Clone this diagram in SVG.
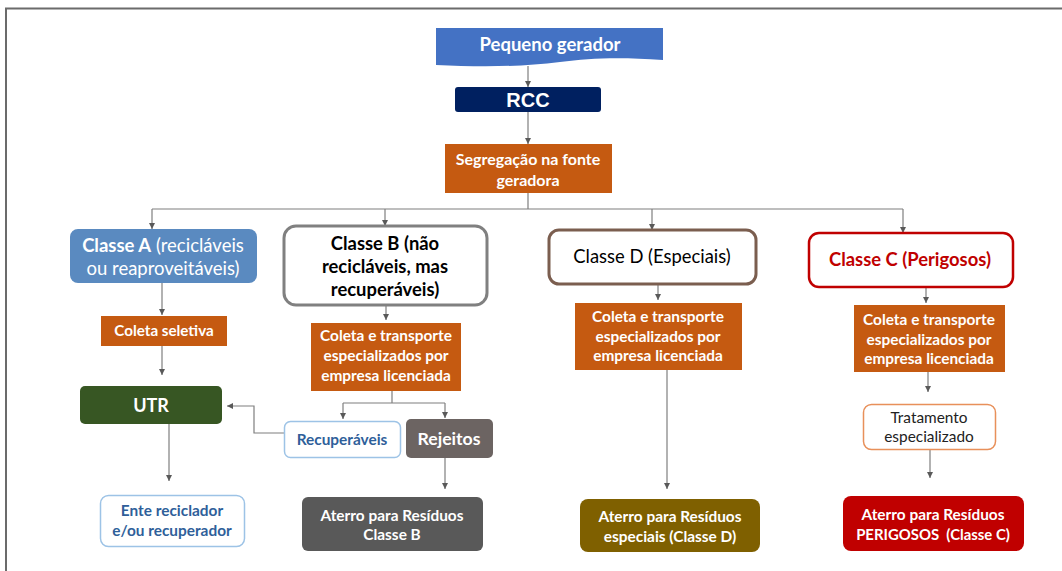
<svg xmlns="http://www.w3.org/2000/svg" width="1062" height="571" viewBox="0 0 1062 571">
<defs>
<marker id="ah" viewBox="0 0 10 10" refX="10" refY="5" markerWidth="6" markerHeight="6" orient="auto" markerUnits="userSpaceOnUse">
<path d="M0,0 L10,5 L0,10 Z" fill="#595959"/>
</marker>
<style>
.t{font-family:Lato,"Open Sans","Liberation Sans",sans-serif;text-anchor:middle}
.b{font-weight:bold}
.w{fill:#ffffff}
.c{fill:none;stroke:#7f7f7f;stroke-width:1.2}
.a{marker-end:url(#ah)}
.org{fill:#C55A11}
.s{font-size:15.4px}
.m{font-size:18.4px}
</style>
</defs>
<rect x="0" y="0" width="1062" height="571" fill="#ffffff"/>
<path d="M6,571 V8.5 H1062" fill="none" stroke="#6b6b6b" stroke-width="2"/>

<g id="connectors">
<path class="c a" d="M528,66 V87"/>
<path class="c a" d="M528,112 V144"/>
<path class="c" d="M528,193 V209 M152,209 H903"/>
<path class="c a" d="M152,209 V229"/>
<path class="c a" d="M385,209 V226"/>
<path class="c a" d="M652,209 V230"/>
<path class="c a" d="M903,209 V233"/>
<path class="c a" d="M162,283 V315"/>
<path class="c a" d="M162,346 V375"/>
<path class="c a" d="M169,424 V481"/>
<path class="c a" d="M386,305 V320"/>
<path class="c" d="M392,391 V403 M343,403 H445"/>
<path class="c a" d="M343,403 V419"/>
<path class="c a" d="M445,403 V418"/>
<path class="c a" d="M284,433 H254 V406 H227"/>
<path class="c a" d="M445,458 V489"/>
<path class="c a" d="M658,284 V300"/>
<path class="c a" d="M667,370 V489"/>
<path class="c a" d="M926,287 V303"/>
<path class="c a" d="M928,372 V392"/>
<path class="c a" d="M930,450 V478"/>
</g>

<g id="pequeno-gerador">
<path d="M436,28 H663 V60 C620,57 590,58 560,62 C520,67 480,67 436,65 Z" fill="#4472C4"/>
<text class="t b w" x="550" y="51" font-size="18.5">Pequeno gerador</text>
</g>

<g id="rcc">
<rect x="455" y="87" width="146" height="25" rx="3" fill="#002060"/>
<text x="528" y="107" font-family="'Liberation Sans',Arial,sans-serif" font-weight="bold" font-size="20" fill="#ffffff" text-anchor="middle">RCC</text>
</g>

<g id="segregacao">
<rect class="org" x="445" y="144" width="167" height="49"/>
<text class="t b w" x="528" y="165" font-size="16">Segregação na fonte</text>
<text class="t b w" x="528" y="186" font-size="16">geradora</text>
</g>

<g id="classe-a">
<rect x="70" y="229" width="187" height="54" rx="8" fill="#5A8AC0"/>
<text class="t w" x="163" y="252" font-size="18.5"><tspan font-weight="bold">Classe A</tspan> (recicláveis</text>
<text class="t w" x="163" y="275" font-size="18.5">ou reaproveitáveis)</text>
</g>

<g id="classe-b">
<rect x="284" y="226" width="203" height="79" rx="12" fill="#ffffff" stroke="#808080" stroke-width="3"/>
<text class="t b m" x="385" y="250" fill="#000">Classe B (não</text>
<text class="t b m" x="385" y="273" fill="#000">recicláveis, mas</text>
<text class="t b m" x="385" y="296" fill="#000">recuperáveis)</text>
</g>

<g id="classe-d">
<rect x="549" y="230" width="207" height="54" rx="10" fill="#ffffff" stroke="#7B5E4F" stroke-width="3"/>
<text class="t m" x="652" y="263" fill="#000">Classe D (Especiais)</text>
</g>

<g id="classe-c">
<rect x="809" y="233" width="204" height="54" rx="10" fill="#ffffff" stroke="#C00000" stroke-width="2.5"/>
<text class="t b m" x="910" y="266" fill="#C00000">Classe C (Perigosos)</text>
</g>

<g id="coleta-seletiva">
<rect class="org" x="101" y="316" width="126" height="30"/>
<text class="t b w" x="164" y="336" font-size="15.2">Coleta seletiva</text>
</g>

<g id="utr">
<rect x="80" y="386" width="142" height="38" rx="5" fill="#375623"/>
<text class="t b w" x="151" y="412" font-size="18">UTR</text>
</g>

<g id="ente">
<rect x="100.5" y="495.5" width="144" height="51" rx="8" fill="#ffffff" stroke="#9DC3E6" stroke-width="1.5"/>
<text class="t b s" x="172" y="516" fill="#2F5F9A">Ente reciclador</text>
<text class="t b s" x="172" y="536" fill="#2F5F9A">e/ou recuperador</text>
</g>

<g id="coleta-b">
<rect class="org" x="311" y="323" width="150" height="68"/>
<text class="t b w s" x="386" y="341">Coleta e transporte</text>
<text class="t b w s" x="386" y="361">especializados por</text>
<text class="t b w s" x="386" y="381">empresa licenciada</text>
</g>

<g id="recuperaveis">
<rect x="284.5" y="421.5" width="116" height="36" rx="6" fill="#ffffff" stroke="#9DC3E6" stroke-width="1.5"/>
<text class="t b s" x="342" y="445" fill="#2F5F9A">Recuperáveis</text>
</g>

<g id="rejeitos">
<rect x="406" y="419" width="87" height="39" rx="5" fill="#6C6462"/>
<text class="t b w" x="449" y="445" font-size="17.7">Rejeitos</text>
</g>

<g id="aterro-b">
<rect x="302" y="497" width="181" height="54" rx="6" fill="#595959"/>
<text class="t b w s" x="392" y="521">Aterro para Resíduos</text>
<text class="t b w s" x="392" y="540">Classe B</text>
</g>

<g id="coleta-d">
<rect class="org" x="575" y="303" width="167" height="67"/>
<text class="t b w s" x="658" y="322">Coleta e transporte</text>
<text class="t b w s" x="658" y="342">especializados por</text>
<text class="t b w s" x="658" y="361">empresa licenciada</text>
</g>

<g id="aterro-d">
<rect x="580" y="499" width="180" height="53" rx="8" fill="#7F6000"/>
<text class="t b w s" x="670" y="522">Aterro para Resíduos</text>
<text class="t b w s" x="670" y="542">especiais (Classe D)</text>
</g>

<g id="coleta-c">
<rect class="org" x="854" y="305" width="151" height="67"/>
<text class="t b w s" x="929" y="325">Coleta e transporte</text>
<text class="t b w s" x="929" y="345">especializados por</text>
<text class="t b w s" x="929" y="364">empresa licenciada</text>
</g>

<g id="tratamento">
<rect x="863.5" y="404.5" width="132" height="45" rx="8" fill="#ffffff" stroke="#E8905A" stroke-width="1.5"/>
<text class="t s" x="929" y="423" fill="#222">Tratamento</text>
<text class="t s" x="929" y="442" fill="#222">especializado</text>
</g>

<g id="aterro-c">
<rect x="843" y="496" width="181" height="55" rx="8" fill="#C00000"/>
<text class="t b w s" x="933" y="520">Aterro para Resíduos</text>
<text class="t b w" x="933" y="540" font-size="14.9" xml:space="preserve">PERIGOSOS  (Classe C)</text>
</g>
</svg>
